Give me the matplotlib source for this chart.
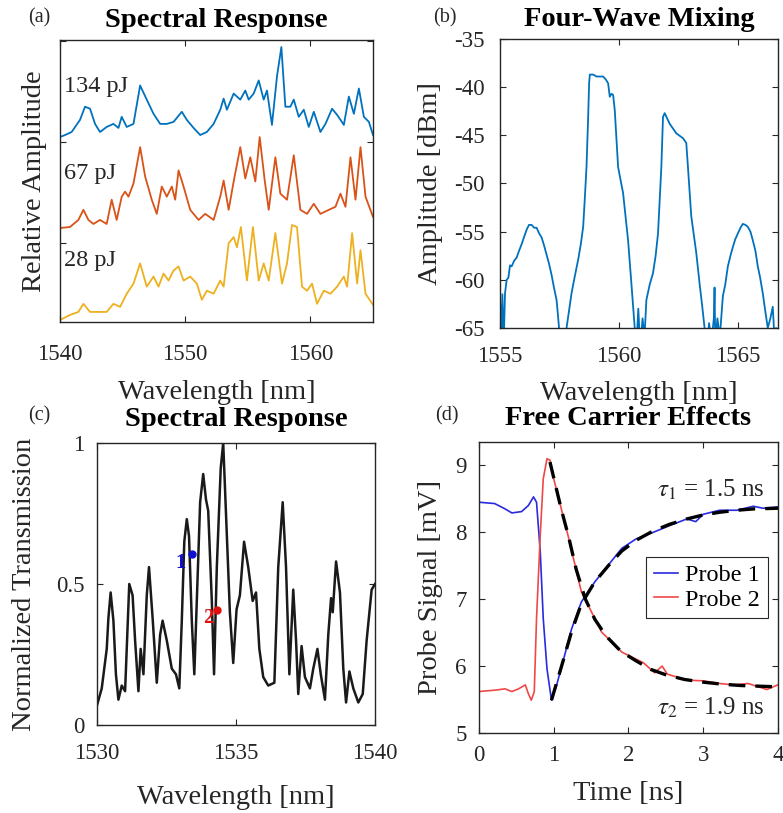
import matplotlib.pyplot as plt

plt.rcParams["font.family"] = ["Liberation Serif", "DejaVu Serif"]
plt.rcParams["mathtext.fontset"] = "stix"
plt.rcParams["axes.unicode_minus"] = False

# (a) stacked spectral response for three pulse energies (arbitrary units)
WL_134 = [1540.0, 1540.4, 1540.93, 1541.6, 1542.0, 1542.4, 1542.8, 1543.2, 1543.73, 1544.27,
          1544.67, 1544.93, 1545.33, 1545.87, 1546.4, 1546.93, 1547.47, 1548.0, 1548.53, 1549.07,
          1549.73, 1550.13, 1550.67, 1551.2, 1551.73, 1552.27, 1552.8, 1553.07, 1553.33, 1553.87,
          1554.4, 1554.8, 1555.07, 1555.47, 1555.87, 1556.27, 1556.53, 1556.93, 1557.33, 1557.68,
          1558.0, 1558.4, 1558.67, 1559.07, 1559.47, 1559.87, 1560.27, 1560.8, 1561.2, 1561.73,
          1562.13, 1562.67, 1563.07, 1563.47, 1563.87, 1564.27, 1564.67, 1565.0]
AMP_134 = [2.05, 2.07, 2.10, 2.22, 2.35, 2.33, 2.18, 2.10, 2.15, 2.18,
           2.14, 2.25, 2.15, 2.18, 2.56, 2.42, 2.28, 2.18, 2.18, 2.20,
           2.30, 2.22, 2.14, 2.07, 2.10, 2.18, 2.32, 2.43, 2.32, 2.48,
           2.42, 2.51, 2.42, 2.48, 2.61, 2.42, 2.51, 2.17, 2.65, 2.94,
           2.35, 2.35, 2.42, 2.25, 2.32, 2.15, 2.30, 2.10, 2.18, 2.33,
           2.27, 2.17, 2.45, 2.28, 2.53, 2.25, 2.20, 2.07]

WL_67 = [1540.0, 1540.8, 1541.47, 1541.87, 1542.27, 1542.67, 1543.2, 1543.73, 1544.13, 1544.53,
         1544.93, 1545.2, 1545.47, 1545.87, 1546.4, 1546.8, 1547.33, 1547.73, 1548.13, 1548.53,
         1548.93, 1549.2, 1549.47, 1549.87, 1550.4, 1551.07, 1551.6, 1552.27, 1552.8, 1553.07,
         1553.47, 1553.87, 1554.4, 1554.8, 1555.2, 1555.6, 1555.95, 1556.35, 1556.67, 1557.2,
         1557.6, 1558.13, 1558.67, 1559.2, 1559.73, 1560.27, 1560.8, 1561.47, 1562.0, 1562.4,
         1562.8, 1563.2, 1563.6, 1564.0, 1564.4, 1565.0]
AMP_67 = [1.15, 1.16, 1.23, 1.33, 1.23, 1.19, 1.23, 1.19, 1.43, 1.23,
          1.46, 1.51, 1.46, 1.59, 1.95, 1.66, 1.43, 1.29, 1.56, 1.46,
          1.56, 1.43, 1.72, 1.56, 1.33, 1.23, 1.29, 1.23, 1.46, 1.62,
          1.33, 1.61, 1.95, 1.64, 1.85, 1.61, 2.05, 1.62, 1.33, 1.85,
          1.49, 1.43, 1.87, 1.33, 1.29, 1.39, 1.29, 1.33, 1.36, 1.49,
          1.36, 1.85, 1.43, 1.95, 1.46, 1.26]

WL_28 = [1540.0, 1540.8, 1541.47, 1541.87, 1542.4, 1543.2, 1543.73, 1544.27, 1544.8, 1545.33,
         1545.87, 1546.4, 1546.93, 1547.47, 1547.87, 1548.27, 1548.67, 1549.07, 1549.47, 1549.87,
         1550.4, 1550.93, 1551.33, 1551.73, 1552.27, 1552.8, 1553.07, 1553.47, 1553.87, 1554.13,
         1554.45, 1554.93, 1555.41, 1555.87, 1556.27, 1556.67, 1557.2, 1557.73, 1558.13, 1558.53,
         1558.93, 1559.33, 1559.73, 1560.13, 1560.53, 1561.07, 1561.6, 1562.13, 1562.67, 1562.93,
         1563.33, 1563.73, 1564.0, 1564.4, 1565.0]
AMP_28 = [0.24, 0.29, 0.32, 0.40, 0.32, 0.32, 0.32, 0.40, 0.37, 0.50,
          0.60, 0.80, 0.57, 0.67, 0.57, 0.70, 0.63, 0.73, 0.77, 0.63,
          0.67, 0.60, 0.44, 0.53, 0.50, 0.63, 0.57, 1.00, 1.06, 0.96,
          1.16, 0.63, 1.16, 0.63, 0.80, 0.63, 1.10, 0.60, 0.80, 1.18,
          1.16, 0.57, 0.53, 0.60, 0.40, 0.53, 0.50, 0.57, 0.67, 0.57,
          1.10, 0.60, 0.93, 0.50, 0.39]

ENERGY_LABELS = ["134 pJ", "67 pJ", "28 pJ"]
ENERGY_LABEL_Y = [2.55, 1.69, 0.83]

# (b) four-wave mixing spectrum
FWM_WL = [1555.0, 1555.05, 1555.1, 1555.15, 1555.21, 1555.28, 1555.35, 1555.42, 1555.49, 1555.6,
          1555.7, 1555.8, 1555.91, 1556.02, 1556.12, 1556.22, 1556.33, 1556.44, 1556.54, 1556.65,
          1556.75, 1556.85, 1556.96, 1557.06, 1557.17, 1557.27, 1557.38, 1557.45, 1557.55, 1557.65,
          1557.8, 1558.01, 1558.15, 1558.29, 1558.4, 1558.5, 1558.57, 1558.64, 1558.71, 1558.75,
          1558.78, 1558.92, 1559.06, 1559.2, 1559.34, 1559.45, 1559.55, 1559.62, 1559.69, 1559.76,
          1559.83, 1559.97, 1560.18, 1560.39, 1560.53, 1560.67, 1560.75, 1560.82, 1560.9, 1561.0,
          1561.08, 1561.16, 1561.3, 1561.44, 1561.55, 1561.65, 1561.79, 1561.86, 1561.93, 1562.14,
          1562.42, 1562.7, 1562.84, 1562.91, 1563.05, 1563.26, 1563.4, 1563.5, 1563.61, 1563.7,
          1563.8, 1563.9, 1564.0, 1564.03, 1564.06, 1564.15, 1564.25, 1564.38, 1564.48, 1564.59,
          1564.7, 1564.8, 1564.9, 1565.01, 1565.12, 1565.22, 1565.33, 1565.43, 1565.54, 1565.64,
          1565.75, 1565.85, 1565.95, 1566.06, 1566.15, 1566.27, 1566.38, 1566.48, 1566.55, 1566.62,
          1566.7]
FWM_DBM = [-62.0, -66.0, -61.5, -67.0, -61.4, -60.0, -59.8, -58.5, -58.6, -58.0,
           -57.7, -57.0, -56.3, -55.5, -54.8, -54.3, -54.3, -54.6, -54.6, -55.2,
           -55.6, -56.4, -57.4, -58.3, -59.5, -60.8, -62.1, -64.0, -67.0, -66.5,
           -65.0, -61.4, -59.6, -57.9, -56.3, -54.5, -51.5, -48.3, -43.1, -39.6,
           -38.7, -38.7, -38.9, -38.9, -38.9, -39.2, -39.6, -41.0, -40.7, -40.8,
           -42.4, -48.3, -51.0, -55.9, -60.4, -65.0, -66.5, -63.0, -67.0, -64.0,
           -66.0, -62.1, -60.5, -59.3, -57.5, -55.2, -48.3, -43.1, -42.7, -43.8,
           -44.8, -45.3, -45.8, -48.3, -53.4, -57.2, -60.4, -62.5, -65.0, -67.0,
           -64.5, -66.5, -64.0, -60.8, -66.5, -64.0, -66.0, -61.7, -60.5, -58.6,
           -57.5, -56.6, -55.8, -55.2, -54.6, -54.2, -54.3, -54.5, -55.0, -55.9,
           -57.0, -58.6, -59.8, -61.4, -63.0, -65.0, -64.0, -62.8, -66.0, -65.0,
           -67.0]

# (c) normalized transmission spectrum with the two probe wavelengths
TR_WL = [1530.0, 1530.17, 1530.35, 1530.41, 1530.49, 1530.59, 1530.68, 1530.77, 1530.89, 1531.01,
         1531.16, 1531.28, 1531.37, 1531.49, 1531.57, 1531.67, 1531.79, 1531.87, 1532.0, 1532.15,
         1532.27, 1532.36, 1532.51, 1532.69, 1532.84, 1532.96, 1533.05, 1533.14, 1533.23, 1533.31,
         1533.41, 1533.5, 1533.59, 1533.71, 1533.82, 1533.92, 1534.0, 1534.13, 1534.21, 1534.31,
         1534.45, 1534.54, 1534.66, 1534.78, 1534.9, 1535.02, 1535.14, 1535.29, 1535.44, 1535.6,
         1535.72, 1535.84, 1535.98, 1536.16, 1536.38, 1536.52, 1536.68, 1536.8, 1536.92, 1537.06,
         1537.16, 1537.24, 1537.36, 1537.48, 1537.66, 1537.78, 1537.93, 1538.05, 1538.2, 1538.32,
         1538.42, 1538.48, 1538.6, 1538.74, 1538.86, 1538.96, 1539.08, 1539.22, 1539.4, 1539.56,
         1539.7, 1539.88, 1540.0]
TR_VAL = [0.07, 0.13, 0.27, 0.38, 0.47, 0.37, 0.18, 0.09, 0.14, 0.12,
          0.50, 0.46, 0.30, 0.12, 0.27, 0.18, 0.46, 0.56, 0.38, 0.15,
          0.32, 0.37, 0.30, 0.20, 0.18, 0.13, 0.37, 0.65, 0.73, 0.67,
          0.37, 0.18, 0.44, 0.79, 0.89, 0.80, 0.76, 0.44, 0.18, 0.56,
          0.91, 1.00, 0.70, 0.40, 0.22, 0.41, 0.46, 0.65, 0.56, 0.44,
          0.47, 0.27, 0.17, 0.14, 0.15, 0.56, 0.79, 0.56, 0.18, 0.48,
          0.30, 0.11, 0.28, 0.17, 0.13, 0.20, 0.27, 0.18, 0.09, 0.32,
          0.45, 0.40, 0.58, 0.47, 0.20, 0.08, 0.19, 0.13, 0.08, 0.11,
          0.30, 0.48, 0.50]
PROBE_WL = [1533.41, 1534.31]
PROBE_VAL = [0.606, 0.408]
PROBE_NAMES = ["1", "2"]

# (d) probe signals and exponential recovery fits
P1_T = [0, 0.21, 0.35, 0.44, 0.57, 0.66, 0.73, 0.77, 0.82, 0.86,
        0.91, 0.97, 1.04, 1.11, 1.24, 1.37, 1.55, 1.73, 1.91, 2.1,
        2.33, 2.55, 2.78, 2.9, 3.0, 3.22, 3.45, 3.67, 3.8, 4.0]
P1_MV = [8.45, 8.43, 8.35, 8.29, 8.31, 8.40, 8.53, 8.45, 7.71, 6.71,
         5.96, 5.49, 5.72, 6.01, 6.56, 6.96, 7.26, 7.51, 7.76, 7.90,
         8.00, 8.10, 8.20, 8.16, 8.27, 8.33, 8.33, 8.39, 8.36, 8.38]
P2_T = [0, 0.21, 0.35, 0.44, 0.53, 0.62, 0.66, 0.70, 0.74, 0.77,
        0.82, 0.86, 0.91, 0.95, 1.0, 1.19, 1.37, 1.42, 1.64, 1.91,
        2.2, 2.35, 2.45, 2.52, 2.78, 3.0, 3.22, 3.4, 3.6, 3.85, 4.0]
P2_MV = [5.62, 5.64, 5.66, 5.62, 5.66, 5.72, 5.59, 5.49, 5.62, 6.71,
         7.96, 8.80, 9.10, 9.08, 8.80, 7.96, 7.11, 7.00, 6.51, 6.21,
         6.05, 5.90, 6.00, 5.88, 5.79, 5.78, 5.74, 5.72, 5.74, 5.65, 5.72]
FIT1_T = [0.97, 1.1, 1.24, 1.37, 1.55, 1.73, 1.91, 2.1, 2.33, 2.55, 2.78, 3.0, 3.22, 3.45, 3.67, 4.0]
FIT1_MV = [5.49, 5.98, 6.52, 6.93, 7.26, 7.50, 7.72, 7.88, 8.02, 8.12, 8.20, 8.26, 8.30, 8.33, 8.35, 8.36]
FIT2_T = [0.95, 1.1, 1.2, 1.3, 1.42, 1.55, 1.7, 1.9, 2.1, 2.3, 2.5, 2.75, 3.0, 3.25, 3.5, 3.75, 4.0]
FIT2_MV = [9.05, 8.35, 7.93, 7.45, 7.01, 6.70, 6.45, 6.22, 6.08, 5.95, 5.87, 5.80, 5.76, 5.73, 5.71, 5.70, 5.69]
TAU_1 = 1.5
TAU_2 = 1.9

INK = "#262626"
TICK_SIZE = 16.5
LABEL_SIZE = 20.5
TITLE_SIZE = 20.5


def style_axes(ax, xpad):
    ax.tick_params(direction="in", top=True, right=True, length=4, width=0.8,
                   labelsize=TICK_SIZE, colors=INK, pad=9)
    ax.tick_params(axis="x", pad=xpad)
    for spine in ax.spines.values():
        spine.set_linewidth(1.0)
        spine.set_color(INK)


def plot_pulse_energies(ax):
    for wl, amp, color in ((WL_134, AMP_134, "#0072BD"), (WL_67, AMP_67, "#D95319"),
                           (WL_28, AMP_28, "#EDB120")):
        ax.plot(wl, amp, color=color, lw=1.3, solid_joinstyle="round")
    for text, y in zip(ENERGY_LABELS, ENERGY_LABEL_Y):
        ax.text(1540.3, y, text, fontsize=17.5, color=INK, va="center")
    ax.set_xlim(1540, 1565)
    ax.set_ylim(0.22, 3.01)
    ax.set_xticks([1540, 1550, 1560])
    ax.set_yticks([1, 2, 3])
    ax.set_yticklabels([])
    style_axes(ax, 16)
    ax.set_title("Spectral Response", fontsize=TITLE_SIZE, fontweight="bold", pad=9)
    ax.set_xlabel("Wavelength [nm]", fontsize=LABEL_SIZE, color=INK)
    ax.set_ylabel("Relative Amplitude", fontsize=LABEL_SIZE, color=INK)
    ax.xaxis.set_label_coords(0.5, -0.205)
    ax.yaxis.set_label_coords(-0.042, 0.5)


def plot_four_wave_mixing(ax):
    ax.plot(FWM_WL, FWM_DBM, color="#0072BD", lw=1.3, solid_joinstyle="round")
    ax.set_xlim(1555, 1566.7)
    ax.set_ylim(-65, -35)
    ax.set_xticks([1555, 1560, 1565])
    ax.set_yticks(range(-65, -34, 5))
    style_axes(ax, 13.3)
    ax.tick_params(axis="y", pad=11)
    ax.set_title("Four-Wave Mixing", fontsize=TITLE_SIZE, fontweight="bold", pad=9)
    ax.set_xlabel("Wavelength [nm]", fontsize=LABEL_SIZE, color=INK)
    ax.set_ylabel("Amplitude [dBm]", fontsize=LABEL_SIZE, color=INK)
    ax.xaxis.set_label_coords(0.5, -0.185)
    ax.yaxis.set_label_coords(-0.205, 0.5)


def plot_transmission(ax):
    ax.plot(TR_WL, TR_VAL, color="#1a1a1a", lw=1.8, solid_joinstyle="round")
    for wl, val, name, color, dx in zip(PROBE_WL, PROBE_VAL, PROBE_NAMES,
                                        ("#1010d0", "#e01010"), (0.22, 0.13)):
        ax.plot(wl, val, "o", color=color, ms=5, zorder=4)
        ax.text(wl - dx, val - 0.03, name, color=color, fontsize=15, fontweight="bold",
                ha="right", va="center", zorder=4)
    ax.set_xlim(1530, 1540)
    ax.set_ylim(0, 1)
    ax.set_xticks([1530, 1535, 1540])
    ax.set_yticks([0, 0.5, 1])
    ax.set_yticklabels(["0", "0.5", "1"])
    style_axes(ax, 12.6)
    ax.set_title("Spectral Response", fontsize=TITLE_SIZE, fontweight="bold", pad=12)
    ax.set_xlabel("Wavelength [nm]", fontsize=LABEL_SIZE, color=INK)
    ax.set_ylabel("Normalized Transmission", fontsize=LABEL_SIZE, color=INK)
    ax.xaxis.set_label_coords(0.5, -0.212)
    ax.yaxis.set_label_coords(-0.216, 0.5)


def plot_free_carriers(ax):
    ax.plot(P1_T, P1_MV, color="#2a2ae0", lw=1.2, label="Probe 1")
    ax.plot(P2_T, P2_MV, color="#f04848", lw=1.2, label="Probe 2")
    ax.plot(FIT1_T, FIT1_MV, color="black", lw=2.4, ls=(0, (5, 3)))
    ax.plot(FIT2_T, FIT2_MV, color="black", lw=2.4, ls=(0, (5, 3)))
    ax.text(3.82, 8.63, rf"$\tau_1$ = {TAU_1} ns", fontsize=18, ha="right", va="center", color=INK)
    ax.text(3.82, 5.37, rf"$\tau_2$ = {TAU_2} ns", fontsize=18, ha="right", va="center", color=INK)
    leg = ax.legend(loc="upper right", bbox_to_anchor=(0.965, 0.605), fontsize=17.5,
                    handlelength=1.0, handletextpad=0.3, borderpad=0.3, labelspacing=0.1,
                    borderaxespad=0, fancybox=False, framealpha=1)
    leg.get_frame().set_edgecolor(INK)
    leg.get_frame().set_linewidth(0.8)
    ax.set_xlim(0, 4)
    ax.set_ylim(5, 9.35)
    ax.set_xticks([0, 1, 2, 3, 4])
    ax.set_yticks([5, 6, 7, 8, 9])
    style_axes(ax, 8.3)
    ax.set_title("Free Carrier Effects", fontsize=TITLE_SIZE, fontweight="bold", pad=12)
    ax.set_xlabel("Time [ns]", fontsize=LABEL_SIZE, color=INK)
    ax.set_ylabel("Probe Signal [mV]", fontsize=LABEL_SIZE, color=INK)
    ax.xaxis.set_label_coords(0.5, -0.165)
    ax.yaxis.set_label_coords(-0.12, 0.5)


def main():
    fig = plt.figure(figsize=(7.83, 8.13), dpi=100)
    ax_a = fig.add_axes([0.0766, 0.6039, 0.3998, 0.3469])
    ax_b = fig.add_axes([0.6386, 0.5966, 0.3550, 0.3555])
    ax_c = fig.add_axes([0.1239, 0.1082, 0.3550, 0.3469])
    ax_d = fig.add_axes([0.6117, 0.0984, 0.3819, 0.3579])

    plot_pulse_energies(ax_a)
    plot_four_wave_mixing(ax_b)
    plot_transmission(ax_c)
    plot_free_carriers(ax_d)

    for x, y, tag in ((0.036, 0.978, "(a)"), (0.553, 0.978, "(b)"),
                      (0.036, 0.488, "(c)"), (0.556, 0.488, "(d)")):
        fig.text(x, y, tag, fontsize=14.5, color=INK, va="center")

    fig.savefig("out.png", dpi=100)
    plt.close(fig)


if __name__ == "__main__":
    main()
